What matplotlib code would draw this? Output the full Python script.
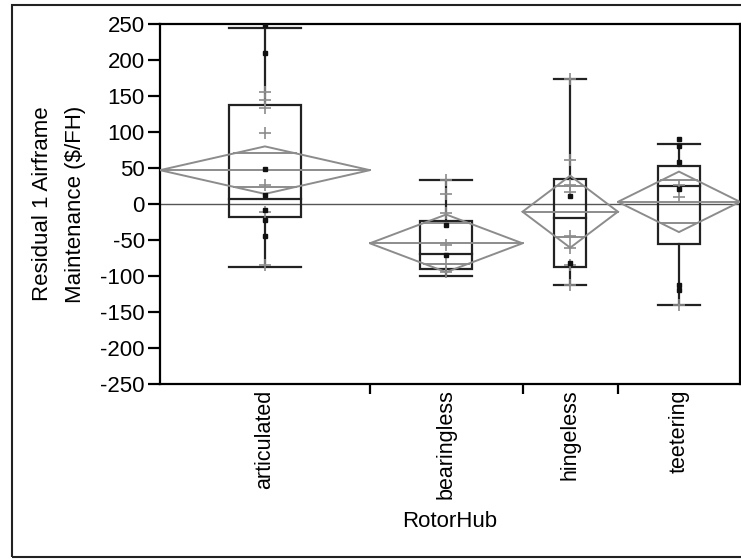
import numpy as np
import matplotlib.pyplot as plt
from matplotlib.patches import Rectangle, Polygon

plt.rcParams['font.family'] = ['Liberation Sans', 'DejaVu Sans']
plt.rcParams['axes.unicode_minus'] = False

# groups and relative widths on the x axis
hubs = ['articulated', 'bearingless', 'hingeless', 'teetering']
group_width = [22, 16, 10, 12.8]

# summary values per group
means = [47, -54.6, -10.7, 3]
ci_half = [33, 40, 50, 42]
q1 = [-17.6, -90.7, -87, -55.6]
medians = [7, -69, -19.4, 25]
q3 = [137.5, -23.6, 34.7, 53]
whisk_lo = [-87, -100, -112.5, -140]
whisk_hi = [245, 34, 173.6, 83]

# residuals per group (two marker kinds)
pts_dot = [
    [249, 210, 49, 12.5, -8, -22, -45],
    [-29, -71],
    [11, -81.5],
    [90, 80, 58, 21, -112, -119],
]
pts_plus = [
    [155, 144, 133, 99, 26, -10.7, -85],
    [34, 14, -12, -57, -83, -95],
    [174, 61, 26, 17, -45, -61, -85, -112.5],
    [26, 10, -140],
]

grey = '#8c8c8c'
dark = '#222222'
edges = np.concatenate([[0], np.cumsum(group_width)])
centers = (edges[:-1] + edges[1:]) / 2

fig = plt.figure(figsize=(7.41, 5.59), dpi=100)
ax = fig.add_axes([160 / 741, 1 - 384 / 559, 580 / 741, 360 / 559])

# grand mean line
ax.axhline(0, color='#555555', lw=1.0, zorder=1)

for i in range(len(hubs)):
    c = centers[i]
    w = group_width[i]
    bw = 0.34 * w
    # box and whiskers
    ax.add_patch(Rectangle((c - bw / 2, q1[i]), bw, q3[i] - q1[i], fill=False,
                           ec=dark, lw=1.6, zorder=3))
    ax.plot([c - bw / 2, c + bw / 2], [medians[i]] * 2, color=dark, lw=1.6, zorder=3)
    ax.plot([c, c], [q3[i], whisk_hi[i]], color=dark, lw=1.6, zorder=3)
    ax.plot([c, c], [q1[i], whisk_lo[i]], color=dark, lw=1.6, zorder=3)
    for v in (whisk_lo[i], whisk_hi[i]):
        ax.plot([c - bw / 2, c + bw / 2], [v, v], color=dark, lw=1.6, zorder=3)
    # means diamond
    m, h = means[i], ci_half[i]
    diamond = [(edges[i], m), (c, m + h), (edges[i + 1], m), (c, m - h)]
    ax.add_patch(Polygon(diamond, closed=True, fill=False, ec=grey, lw=1.4, zorder=4))
    ax.plot([edges[i], edges[i + 1]], [m, m], color=grey, lw=1.4, zorder=4)
    # overlap marks
    off = h / np.sqrt(2)
    half = (w / 2) * (1 - off / h)
    for v in (m + off, m - off):
        ax.plot([c - half, c + half], [v, v], color=grey, lw=1.4, zorder=4)
    # points
    ax.plot([c] * len(pts_plus[i]), pts_plus[i], '+', color=grey, ms=9, mew=1.2, zorder=5)
    ax.plot([c] * len(pts_dot[i]), pts_dot[i], 's', color='#111111', ms=3, zorder=6)

ax.set_xlim(edges[0], edges[-1])
ax.set_ylim(-250, 250)
ax.set_yticks(np.arange(-250, 251, 50))

ax.set_xticks(centers)
ax.set_xticklabels(hubs, rotation=90, fontsize=15.5)
ax.set_xticks(edges[1:-1], minor=True)
ax.tick_params(axis='x', which='major', length=0, pad=4)
ax.tick_params(axis='x', which='minor', length=7, width=1.6, direction='out')
ax.tick_params(axis='y', length=9, width=1.6, labelsize=16, pad=2)

ax.set_ylabel('Residual 1 Airframe\nMaintenance ($/FH)', fontsize=16,
              labelpad=10, linespacing=1.75)
ax.set_xlabel('RotorHub', fontsize=16, labelpad=8)

for s in ax.spines.values():
    s.set_linewidth(1.6)

# outer frame
fig.patches.append(Rectangle((12 / 741, 2 / 559), 740 / 741, 552 / 559,
                             transform=fig.transFigure, fill=False,
                             ec=dark, lw=1.5))

fig.savefig('out.png', dpi=100)
